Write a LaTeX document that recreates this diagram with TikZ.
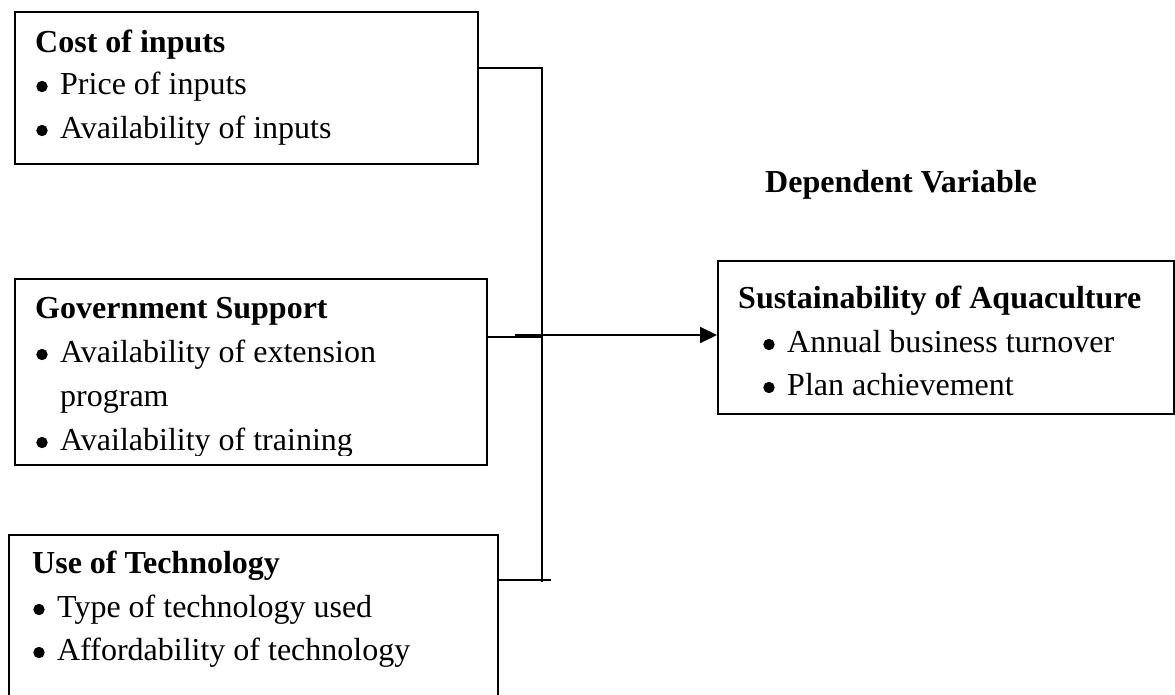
\documentclass[tikz,border=0pt]{standalone}
\usepackage{fontspec}
\setmainfont{Liberation Serif}
\usetikzlibrary{arrows.meta}
\tikzset{
  box/.style={draw=black, line width=1.6pt, fill=none, inner sep=0pt, anchor=north west},
  txt/.style={anchor=base west, inner sep=0pt, font=\fontsize{32}{38}\selectfont},
  head/.style={txt, font=\fontsize{32}{38}\selectfont\bfseries},
  dot/.style={circle, draw=black, fill=black, line width=0.8pt, inner sep=0pt, minimum size=10.5pt},
  conn/.style={line width=1.6pt},
  arr/.style={line width=2.2pt, -{Triangle[length=17pt,width=16pt]}}
}
\begin{document}
\begin{tikzpicture}[x=1pt,y=-1pt]
\useasboundingbox (0,0) rectangle (1175,694);
\clip (0,0) rectangle (1175,694);
\fill[white] (0,0) rectangle (1175,694);
% boxes
\node[box, minimum width=463pt, minimum height=152pt] (b1) at (14,11) {};
\node[box, minimum width=472pt, minimum height=186pt] (b2) at (14,278) {};
\node[box, minimum width=489pt, minimum height=200pt] (b3) at (8,534) {};
\node[box, minimum width=456pt, minimum height=153pt] (b4) at (717,260) {};
% box 1 text
\node[head] (t1) at (35,52) {Cost of inputs};
\node[dot] (t1a) at (42,86.5) {};
\node[txt] (t1b) at (60,94) {Price of inputs};
\node[dot] (t1c) at (42,130.5) {};
\node[txt] (t1d) at (60,138) {Availability of inputs};
% box 2 text
\begin{scope}
\clip (14,278) rectangle (486,455);
\node[head] (t2) at (35,318) {Government Support};
\node[dot] (t2a) at (42,354.5) {};
\node[txt] (t2b) at (60,362) {Availability of extension};
\node[txt] (t2c) at (60,406) {program};
\node[dot] (t2d) at (42,442.5) {};
\node[txt] (t2e) at (60,450) {Availability of training};
\end{scope}
% box 3 text
\node[head] (t3) at (32,573) {Use of Technology};
\node[dot] (t3a) at (39,609.5) {};
\node[txt] (t3b) at (57,617) {Type of technology used};
\node[dot] (t3c) at (39,652.5) {};
\node[txt] (t3d) at (57,660) {Affordability of technology};
% box 4 text
\node[head] (t4) at (738,308) {Sustainability of Aquaculture};
\node[dot] (t4a) at (769,344.5) {};
\node[txt] (t4b) at (787,352) {Annual business turnover};
\node[dot] (t4c) at (769,387.5) {};
\node[txt] (t4d) at (787,395) {Plan achievement};
% label
\node[head] (dv) at (765,192) {Dependent Variable};
% connectors
\coordinate (j1) at (542,68);
\coordinate (j2) at (542,337);
\coordinate (j3) at (542,582);
\coordinate (m1) at (515,335);
\coordinate (m2) at (552,335);
\coordinate (k3) at (551,580);
\coordinate (a0) at (542,335);
\draw[conn] (b1.east |- j1) -- (j1) -- (j3);
\draw[conn] (b2.east |- j2) -- (j2);
\draw[line width=2.6pt] (m1) -- (m2);
\draw[conn] (b3.east |- k3) -- (k3);
\draw[arr] (a0) -- (b4.west |- a0);
\end{tikzpicture}
\end{document}
